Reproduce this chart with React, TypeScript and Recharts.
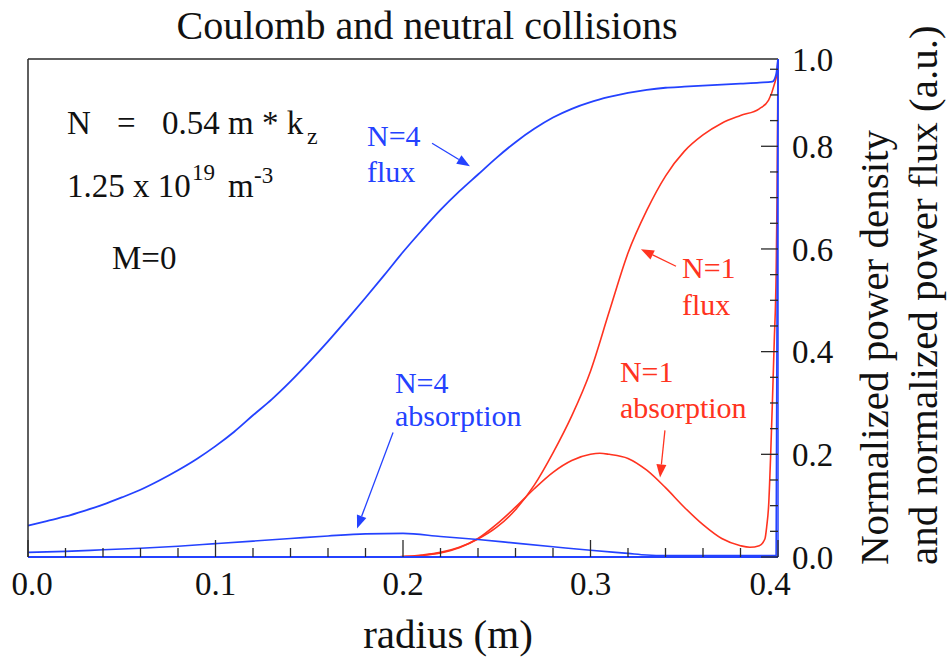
import { LineChart, Line, XAxis, YAxis, ReferenceDot, ReferenceLine } from "recharts";

const BLUE = "#2442ff";
const RED = "#ff3320";
const INK = "#2a2a2a";
const FONT = '"Liberation Serif", "Times New Roman", serif';

// N=4 flux
const n4FluxR = [0, 0.01, 0.02, 0.03, 0.04, 0.05, 0.06, 0.07, 0.08, 0.09, 0.1, 0.11, 0.12, 0.13, 0.14, 0.15, 0.16, 0.17, 0.18, 0.19, 0.2, 0.21, 0.22, 0.23, 0.24, 0.25, 0.26, 0.27, 0.28, 0.29, 0.3, 0.31, 0.32, 0.33, 0.34, 0.35, 0.36, 0.37, 0.38, 0.39, 0.397, 0.399, 0.4];
const n4FluxP = [0.061, 0.07, 0.079, 0.09, 0.102, 0.116, 0.131, 0.149, 0.169, 0.191, 0.216, 0.244, 0.276, 0.307, 0.342, 0.38, 0.42, 0.462, 0.505, 0.549, 0.594, 0.636, 0.676, 0.712, 0.745, 0.778, 0.808, 0.834, 0.856, 0.873, 0.886, 0.896, 0.904, 0.91, 0.914, 0.916, 0.918, 0.92, 0.922, 0.924, 0.926, 0.94, 0.97];

// N=4 absorption
const n4AbsR = [0, 0.02, 0.04, 0.06, 0.08, 0.1, 0.12, 0.14, 0.16, 0.18, 0.2, 0.22, 0.24, 0.26, 0.28, 0.3, 0.32, 0.33, 0.34, 0.36, 0.38, 0.399, 0.4];
const n4AbsP = [0.009, 0.011, 0.014, 0.017, 0.021, 0.026, 0.031, 0.036, 0.041, 0.045, 0.046, 0.04, 0.034, 0.027, 0.02, 0.013, 0.007, 0.004, 0.003, 0.003, 0.003, 0.003, 0.97];

// N=1 flux
const n1FluxR = [0.19, 0.2, 0.21, 0.22, 0.23, 0.24, 0.25, 0.26, 0.27, 0.28, 0.29, 0.3, 0.31, 0.32, 0.33, 0.34, 0.35, 0.36, 0.37, 0.38, 0.39, 0.395, 0.398, 0.3995, 0.4];
const n1FluxP = [0, 0.001, 0.004, 0.009, 0.019, 0.035, 0.058, 0.092, 0.14, 0.203, 0.275, 0.362, 0.478, 0.592, 0.675, 0.742, 0.79, 0.822, 0.845, 0.86, 0.873, 0.89, 0.92, 0.945, 0.97];

// N=1 absorption
const n1AbsR = [0.19, 0.2, 0.21, 0.22, 0.23, 0.24, 0.25, 0.26, 0.27, 0.28, 0.29, 0.3, 0.305, 0.31, 0.32, 0.33, 0.34, 0.35, 0.36, 0.37, 0.38, 0.385, 0.39, 0.393, 0.394, 0.395, 0.396, 0.397, 0.398, 0.399, 0.3995, 0.4];
const n1AbsP = [0, 0.001, 0.003, 0.008, 0.018, 0.036, 0.064, 0.097, 0.133, 0.165, 0.188, 0.2, 0.202, 0.2, 0.192, 0.169, 0.135, 0.097, 0.063, 0.036, 0.022, 0.019, 0.022, 0.035, 0.06, 0.1, 0.19, 0.3, 0.42, 0.55, 0.7, 0.97];

const xTicks = [0, 0.02, 0.04, 0.06, 0.08, 0.1, 0.12, 0.14, 0.16, 0.18, 0.2, 0.22, 0.24, 0.26, 0.28, 0.3, 0.32, 0.34, 0.36, 0.38, 0.4];
const leftTicks = [0, 0.25, 0.5, 0.75, 1, 1.25, 1.5, 1.75, 2, 2.25, 2.5, 2.75];
const rightTicks = [0, 0.05, 0.1, 0.15, 0.2, 0.25, 0.3, 0.35, 0.4, 0.45, 0.5, 0.55, 0.6, 0.65, 0.7, 0.75, 0.8, 0.85, 0.9, 0.95, 0.97];
const RIGHT_TOP = 0.97;

const toPoints = (r: number[], p: number[]) => r.map((x, i) => ({ x, y: p[i] }));

const isMult = (v: number, step: number) => Math.abs(v / step - Math.round(v / step)) < 1e-6;

const BottomTick = ({ x, y, payload }: any) => {
  const v = payload.value;
  const major = isMult(v, 0.1);
  let dx = 0;
  if (v === 0) dx = 4;
  if (v === 0.4) dx = -8;
  return (
    <g>
      <line x1={x} y1={y} x2={x} y2={y - (major ? 17 : 9)} stroke={INK} strokeWidth={1.3} />
      {major && (
        <text x={x + dx} y={y + 38} textAnchor="middle" fontFamily={FONT} fontSize={33} fill="#111">
          {v.toFixed(1)}
        </text>
      )}
    </g>
  );
};

const TopTick = ({ x, y, payload }: any) => {
  const major = isMult(payload.value, 0.1);
  return <line x1={x} y1={y} x2={x} y2={y + (major ? 16 : 9)} stroke={INK} strokeWidth={1.3} />;
};

const LeftTick = ({ x, y, payload }: any) => {
  const major = isMult(payload.value, 1);
  return <line x1={x} y1={y} x2={x + (major ? 16 : 8)} y2={y} stroke={INK} strokeWidth={1.3} />;
};

const RightTick = ({ x, y, payload }: any) => {
  const v = payload.value;
  if (v === RIGHT_TOP) {
    return (
      <text x={x + 14} y={y} dy="0.35em" fontFamily={FONT} fontSize={33} fill="#111">
        1.0
      </text>
    );
  }
  const major = isMult(v, 0.2);
  return (
    <g>
      <line x1={x} y1={y} x2={x - (major ? 17 : 8)} y2={y} stroke={INK} strokeWidth={1.3} />
      {major && (
        <text x={x + 14} y={y} dy="0.35em" fontFamily={FONT} fontSize={33} fill="#111">
          {v.toFixed(1)}
        </text>
      )}
    </g>
  );
};

const TitleLabel = (props: any) => {
  const vb = props.viewBox || { x: 28, y: 0, width: 750, height: 59 };
  return (
    <text x={vb.x + vb.width / 2 + 24} y={39} textAnchor="middle" fontFamily={FONT} fontSize={40} fill="#111">
      Coulomb and neutral collisions
    </text>
  );
};

const RadiusLabel = (props: any) => {
  const vb = props.viewBox || { x: 28, y: 557, width: 750, height: 103 };
  return (
    <text x={vb.x + vb.width / 2 + 45} y={vb.y + 91} textAnchor="middle" fontFamily={FONT} fontSize={41} fill="#111">
      radius (m)
    </text>
  );
};

const RightTitle = (props: any) => {
  const vb = props.viewBox || { x: 778, y: 59, width: 171, height: 498 };
  const y0 = vb.y + vb.height + 8;
  const x1 = vb.x + 110;
  const x2 = vb.x + 159;
  return (
    <g fontFamily={FONT} fontSize={41} fill="#111">
      <text x={x1} y={y0} transform={`rotate(-90 ${x1} ${y0})`}>Normalized power density</text>
      <text x={x2} y={y0} transform={`rotate(-90 ${x2} ${y0})`}>and normalized power flux (a.u.)</text>
    </g>
  );
};

const noteShape = (lines: string[], color: string, gap: number) => (props: any) => (
  <text x={props.cx} y={props.cy} fontFamily={FONT} fontSize={30} fill={color}>
    {lines.map((l, i) => (
      <tspan key={l} x={props.cx} dy={i === 0 ? 0 : gap}>
        {l}
      </tspan>
    ))}
  </text>
);

const paramsShape = (props: any) => (
  <g transform={`translate(${props.cx} ${props.cy})`} fontFamily={FONT} fill="#111">
    <text x={0} y={0} fontSize={33}>N</text>
    <text x={50} y={0} fontSize={33}>=</text>
    <text x={95} y={0} fontSize={33}>0.54 m * k</text>
    <text x={240} y={10} fontSize={24}>z</text>
    <text x={0} y={63} fontSize={33}>1.25 x 10</text>
    <text x={125} y={46} fontSize={23}>19</text>
    <text x={161} y={63} fontSize={33}>m</text>
    <text x={187} y={49} fontSize={23}>-3</text>
    <text x={45} y={135} fontSize={33}>M=0</text>
  </g>
);

const arrowShape = (color: string) => (props: any) => {
  const { x1, y1, x2, y2 } = props;
  const dx = x2 - x1;
  const dy = y2 - y1;
  const len = Math.hypot(dx, dy) || 1;
  const ux = dx / len;
  const uy = dy / len;
  const hl = 13;
  const hw = 5;
  const bx = x2 - ux * hl;
  const by = y2 - uy * hl;
  return (
    <g>
      <line x1={x1} y1={y1} x2={bx} y2={by} stroke={color} strokeWidth={1.3} />
      <polygon points={`${x2},${y2} ${bx - uy * hw},${by + ux * hw} ${bx + uy * hw},${by - ux * hw}`} fill={color} />
    </g>
  );
};

export default function App() {
  return (
    <div style={{ position: "absolute", left: 0, top: 0, background: "#fff" }}>
      <LineChart width={949} height={660} margin={{ top: 0, right: 0, bottom: 0, left: 0 }}>
        <XAxis
          type="number"
          dataKey="x"
          domain={[0, 0.4]}
          ticks={xTicks}
          interval={0}
          height={103}
          tickSize={0}
          tickMargin={0}
          tickLine={false}
          tick={<BottomTick />}
          axisLine={{ stroke: BLUE, strokeWidth: 2 }}
          label={RadiusLabel}
        />
        <XAxis
          xAxisId="top"
          orientation="top"
          type="number"
          dataKey="x"
          domain={[0, 0.4]}
          ticks={xTicks}
          interval={0}
          height={59}
          tickSize={0}
          tickMargin={0}
          tickLine={false}
          tick={<TopTick />}
          axisLine={{ stroke: INK, strokeWidth: 1.5 }}
          label={TitleLabel}
        />
        <YAxis
          yAxisId="left"
          type="number"
          domain={[0, 2.884]}
          ticks={leftTicks}
          interval={0}
          width={28}
          tickSize={0}
          tickMargin={0}
          tickLine={false}
          tick={<LeftTick />}
          axisLine={{ stroke: INK, strokeWidth: 1.5 }}
        />
        <YAxis
          yAxisId="right"
          orientation="right"
          type="number"
          domain={[0, RIGHT_TOP]}
          allowDataOverflow
          ticks={rightTicks}
          interval={0}
          width={171}
          tickSize={0}
          tickMargin={0}
          tickLine={false}
          tick={<RightTick />}
          axisLine={{ stroke: BLUE, strokeWidth: 1.5 }}
          label={RightTitle}
        />
        <Line yAxisId="right" data={toPoints(n1FluxR, n1FluxP)} dataKey="y" type="monotone" stroke={RED} strokeWidth={1.6} dot={false} isAnimationActive={false} />
        <Line yAxisId="right" data={toPoints(n1AbsR, n1AbsP)} dataKey="y" type="monotone" stroke={RED} strokeWidth={1.6} dot={false} isAnimationActive={false} />
        <Line yAxisId="right" data={toPoints(n4AbsR, n4AbsP)} dataKey="y" type="monotone" stroke={BLUE} strokeWidth={1.6} dot={false} isAnimationActive={false} />
        <Line yAxisId="right" data={toPoints(n4FluxR, n4FluxP)} dataKey="y" type="monotone" stroke={BLUE} strokeWidth={1.8} dot={false} isAnimationActive={false} />

        <ReferenceDot yAxisId="right" x={0.0208} y={0.8236} shape={paramsShape} />
        <ReferenceDot yAxisId="right" x={0.1808} y={0.8002} shape={noteShape(["N=4", "flux"], BLUE, 36)} />
        <ReferenceDot yAxisId="right" x={0.1957} y={0.3187} shape={noteShape(["N=4", "absorption"], BLUE, 33)} />
        <ReferenceDot yAxisId="right" x={0.3488} y={0.5429} shape={noteShape(["N=1", "flux"], RED, 37)} />
        <ReferenceDot yAxisId="right" x={0.3157} y={0.3402} shape={noteShape(["N=1", "absorption"], RED, 36)} />

        <ReferenceLine yAxisId="right" segment={[{ x: 0.2155, y: 0.806 }, { x: 0.2357, y: 0.761 }]} shape={arrowShape(BLUE)} />
        <ReferenceLine yAxisId="right" segment={[{ x: 0.1947, y: 0.2427 }, { x: 0.1755, y: 0.0556 }]} shape={arrowShape(BLUE)} />
        <ReferenceLine yAxisId="right" segment={[{ x: 0.3456, y: 0.5663 }, { x: 0.3269, y: 0.5994 }]} shape={arrowShape(RED)} />
        <ReferenceLine yAxisId="right" segment={[{ x: 0.3397, y: 0.2466 }, { x: 0.3371, y: 0.155 }]} shape={arrowShape(RED)} />
      </LineChart>
    </div>
  );
}
